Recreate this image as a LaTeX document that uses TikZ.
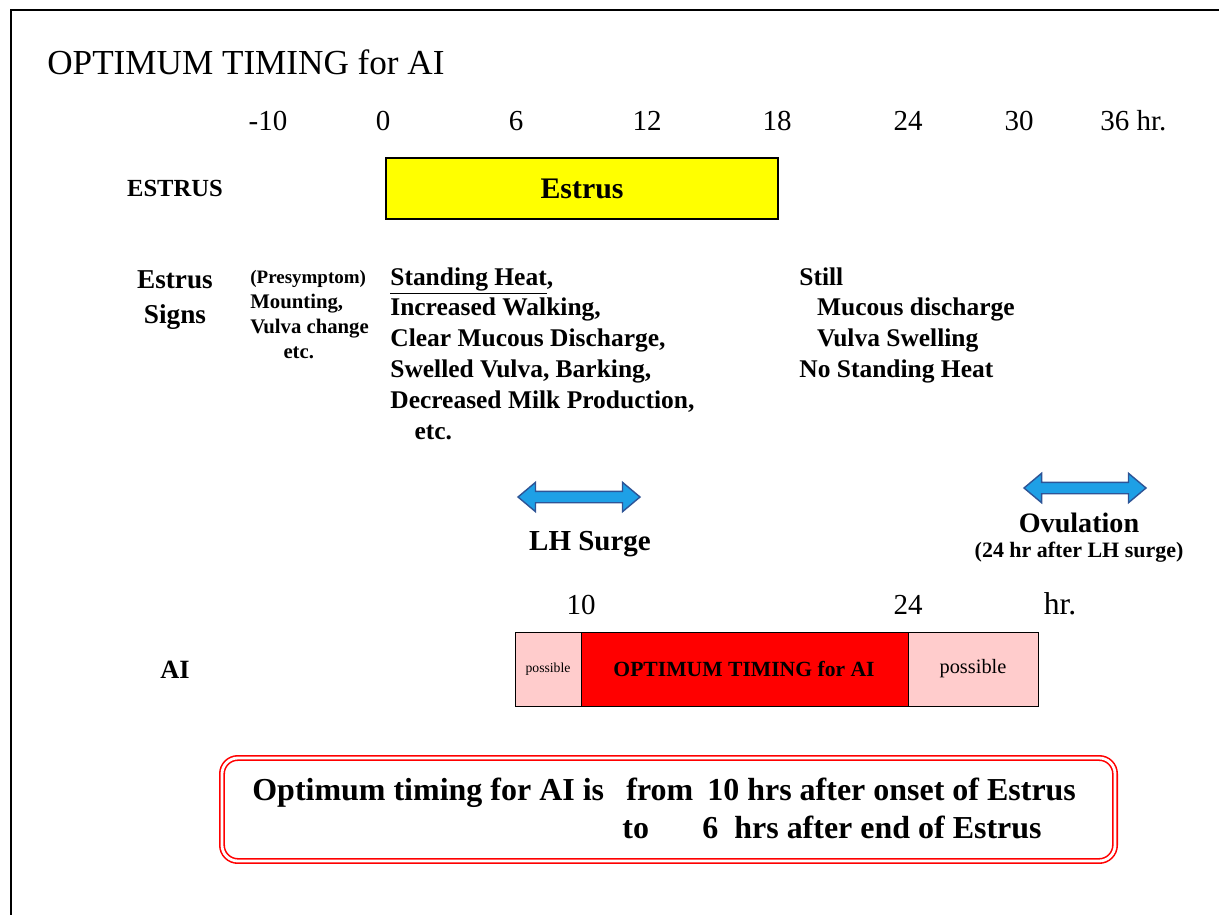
\documentclass[tikz,border=0pt]{standalone}
\usepackage{fontspec}
\setmainfont{Liberation Serif}
\usetikzlibrary{shapes.arrows}

\definecolor{estrusyellow}{RGB}{255,255,0}
\definecolor{aipink}{RGB}{255,204,204}
\definecolor{aired}{RGB}{255,0,0}
\definecolor{surgeblue}{RGB}{30,160,230}
\definecolor{surgeedge}{RGB}{46,84,150}

\begin{document}
\begin{tikzpicture}[x=0.02cm,y=-0.02cm,
  every node/.style={inner sep=0pt},
  tick/.style={font=\fontsize{16.5}{20}\selectfont, anchor=base},
  rowlabel/.style={font=\fontsize{15}{20}\selectfont\bfseries},
  signs/.style={font=\fontsize{14.5}{17.6}\selectfont\bfseries, align=left, anchor=north west},
  surge/.style={double arrow, draw=surgeedge, fill=surgeblue, line width=0.8pt,
    minimum height=2.44cm, inner sep=0.1cm, double arrow head extend=0.18cm,
    double arrow tip angle=80},
  summary/.style={font=\fontsize{18.2}{20}\selectfont\bfseries, anchor=base west}
]
\useasboundingbox (0,0) rectangle (1219,915);
% page frame (cut off on the right and at the bottom)
\draw [line width=1.2pt] (11,915) -- (11,10) -- (1219,10);
\node [anchor=base west, font=\fontsize{20}{24}\selectfont] (title) at (47,75) {OPTIMUM TIMING for AI};

% hour scale
\foreach \x/\t [count=\i] in {268/-10, 383/0, 516/6, 647/12, 777/18, 908/24, 1019/30}
  \node [tick] (hour\i) at (\x,131) {\t};
\node [tick, anchor=base west] (hour8) at (1100,131) {36 hr.};

% estrus period
\node [rowlabel, font=\fontsize{14}{17}\selectfont\bfseries] (estruslbl) at (175,188) {ESTRUS};
\node [draw, line width=1.2pt, fill=estrusyellow, anchor=north west,
  minimum width=7.84cm, minimum height=1.22cm,
  font=\fontsize{17}{20}\selectfont\bfseries] (estrus) at (385,157) {Estrus};

% signs
\node [rowlabel, font=\fontsize{15.5}{20}\selectfont\bfseries, align=center] (signslbl) at (175,300) {Estrus\\Signs};
\node [signs, font=\fontsize{11.8}{14.2}\selectfont\bfseries] (presym) at (250,270)
  {{\fontsize{10.8}{14.2}\selectfont (Presymptom)}\\Mounting,\\Vulva change\\\hspace{1.6em}etc.};
\node [signs] (during) at (390,267)
  {\underline{Standing Heat},\\Increased Walking,\\Clear Mucous Discharge,\\Swelled Vulva, Barking,\\Decreased Milk Production,\\\hspace{0.95em}etc.};
\node [signs] (after) at (799,267)
  {Still\\\hspace{0.7em}Mucous discharge\\\hspace{0.7em}Vulva Swelling\\No Standing Heat};

% LH surge and ovulation
\node [surge] (lhsurge) at (579,497) {};
\node [font=\fontsize{16.5}{20}\selectfont\bfseries] (lhlbl) at (590,544) {LH Surge};
\node [surge] (ovulation) at (1085,488) {};
\node [font=\fontsize{16}{20}\selectfont\bfseries] (ovlbl) at (1079,523) {Ovulation};
\node [font=\fontsize{12.5}{14}\selectfont\bfseries] (ovnote) at (1079,552) {(24 hr after LH surge)};

% AI window
\node [tick] (ai10) at (581,614) {10};
\node [tick] (ai24) at (908,614) {24};
\node [tick, font=\fontsize{18}{20}\selectfont] (aihr) at (1060,614) {hr.};
\node [rowlabel] (ailbl) at (175,670) {AI};
\draw [fill=aipink] (515,632) rectangle (581,706);
\draw [fill=aired] (581,632) rectangle (908,706);
\draw [fill=aipink] (908,632) rectangle (1038,706);
\node [font=\fontsize{7.8}{9}\selectfont] (early) at (548,669) {possible};
\node [font=\fontsize{12.3}{14}\selectfont\bfseries] (optimum) at (744,669) {OPTIMUM TIMING for AI};
\node [font=\fontsize{11.6}{14}\selectfont] (late) at (973,669) {possible};

% summary box
\draw [aired, double=white, double distance=1.6pt, line width=0.9pt, rounded corners=9pt]
  (222,758) rectangle (1115,861);
\node [summary] (sumA) at (252,800) {Optimum timing for AI is};
\node [summary] (sumB) at (626,800) {from};
\node [summary] (sumC) at (707,800) {10 hrs after onset of Estrus};
\node [summary] (sumD) at (622,838) {to};
\node [summary] (sumE) at (702,838) {6\ \ hrs after end of Estrus};
\end{tikzpicture}
\end{document}
